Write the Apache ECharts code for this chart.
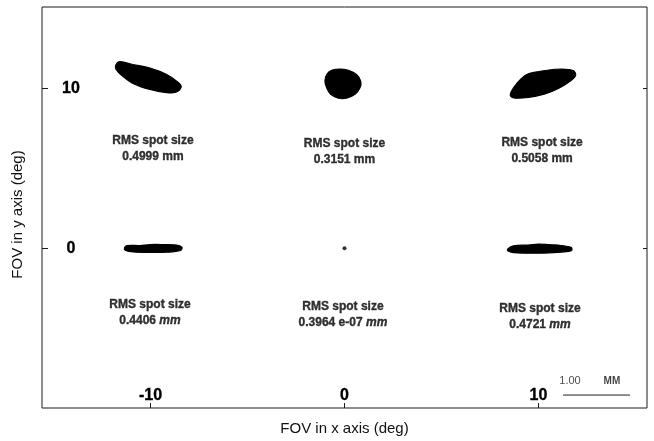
<!DOCTYPE html>
<html>
<head>
<meta charset="utf-8">
<script src="https://cdn.jsdelivr.net/npm/echarts@6/dist/echarts.min.js"></script>
<style>
  html, body { margin: 0; padding: 0; background: #fff; }
  #chart { width: 654px; height: 441px; }
</style>
</head>
<body>
<div id="chart"></div>
<script>
// ---- Data (in degrees) ----
const xTickValues = [-10, 0, 10];
const yTickValues = [0, 10];

// spot outlines (FOV x, FOV y) in degrees
const spotTopLeft = [[-11.80,11.45],[-11.58,11.68],[-10.91,11.50],[-10.03,11.28],[-9.17,10.88],[-8.59,10.40],[-8.42,10.10],[-8.70,9.76],[-9.17,9.74],[-10.03,9.94],[-10.91,10.32],[-11.45,10.78],[-11.78,11.20]];
const spotTopCenter = [[-0.92,10.87],[-0.66,11.14],[-0.23,11.22],[0.20,11.14],[0.63,10.87],[0.84,10.45],[0.80,10.04],[0.54,9.63],[0.11,9.40],[-0.32,9.40],[-0.71,9.63],[-0.92,10.04],[-1.01,10.45]];
const spotTopRight = [[8.55,9.58],[8.74,10.08],[9.10,10.60],[9.48,10.92],[10.34,11.12],[11.20,11.22],[11.80,11.12],[11.92,10.82],[11.63,10.45],[11.03,10.00],[10.34,9.66],[9.48,9.44],[8.79,9.40]];
const spotMidLeft = [[-11.35,0.00],[-11.23,0.16],[-10.55,0.17],[-10.03,0.23],[-9.35,0.23],[-8.65,0.20],[-8.38,0.06],[-8.46,-0.14],[-9.17,-0.25],[-10.03,-0.26],[-10.89,-0.23],[-11.29,-0.14]];
const spotMidRight = [[8.42,-0.04],[8.71,0.15],[9.48,0.20],[9.99,0.26],[10.51,0.23],[11.20,0.17],[11.70,0.04],[11.70,-0.16],[11.20,-0.24],[10.34,-0.30],[9.48,-0.31],[8.71,-0.28],[8.42,-0.16]];
const spotCenterPoint = [[0, 0]];

// RMS labels
const labelX = [-9.88, 0.0, 10.19, -10.03, -0.08, 10.08];
const labelY = [6.26, 6.04, 6.10, -4.06, -4.13, -4.31];
const rmsValues = ['0.4999', '0.3151', '0.5058', '0.4406', '0.3964 e-07', '0.4721'];

// scale bar (1.00 MM)
const scaleBarX = [11.27, 14.72];
const scaleBarY = [-9.19, -9.19];
const scaleTextX = [11.63, 13.79];
const scaleTextY = [-8.30, -8.30];
const scaleTexts = ['1.00', 'MM'];

// ---- Chart ----
const spotOutlines = [spotTopLeft, spotTopCenter, spotTopRight, spotMidLeft, spotMidRight];
const FONT = '"Liberation Sans", Arial, Helvetica, sans-serif';
const INK = '#000';

const chart = echarts.init(document.getElementById('chart'), null, { renderer: 'canvas' });

const boldText = (size) => ({
  fontFamily: FONT, fontSize: size, fontWeight: 'bold', color: INK,
  textBorderColor: INK, textBorderWidth: 0.35
});

const option = {
  backgroundColor: '#ffffff',
  animation: false,
  grid: {
    left: 42, right: 7, top: 7, bottom: 30,
    show: true, borderColor: '#1a1a1a', borderWidth: 1, backgroundColor: 'transparent'
  },
  xAxis: {
    type: 'value', min: -15.6, max: 15.6,
    name: 'FOV in x axis (deg)', nameLocation: 'middle', nameGap: 13,
    nameTextStyle: { fontFamily: FONT, fontSize: 15, color: '#111' },
    axisLine: { show: false, onZero: false },
    splitLine: { show: false },
    axisTick: { show: true, inside: true, length: 5, customValues: xTickValues, lineStyle: { color: '#1a1a1a' } },
    axisLabel: Object.assign({ show: true, inside: true, margin: 4, customValues: xTickValues }, boldText(16))
  },
  yAxis: [{
    type: 'value', min: -10, max: 15.1,
    name: 'FOV in y axis (deg)', nameLocation: 'middle', nameGap: 17,
    nameTextStyle: { fontFamily: FONT, fontSize: 15, color: '#111', padding: [0, 14, 0, 0] },
    axisLine: { show: false, onZero: false },
    splitLine: { show: false },
    axisTick: { show: true, inside: true, length: 6, customValues: yTickValues, lineStyle: { color: '#1a1a1a' } },
    axisLabel: Object.assign({ show: true, inside: true, margin: 29, align: 'center', customValues: yTickValues }, boldText(16))
  }, {
    type: 'value', min: -10, max: 15.1, position: 'right',
    axisLine: { show: false, onZero: false },
    splitLine: { show: false },
    axisTick: { show: true, inside: true, length: 4, customValues: yTickValues, lineStyle: { color: '#1a1a1a' } },
    axisLabel: { show: false }
  }],
  series: [
    {
      name: 'spots', type: 'custom',
      data: spotOutlines.map((o, i) => [o[0][0], o[0][1], i]),
      encode: { x: 0, y: 1 },
      clip: false,
      renderItem: function (params, api) {
        const outline = spotOutlines[api.value(2)];
        const pts = outline.map(p => api.coord(p));
        return {
          type: 'polygon',
          shape: { points: pts, smooth: 0.35 },
          style: { fill: '#000', stroke: '#000', lineWidth: 1.2 }
        };
      }
    },
    {
      name: 'center spot', type: 'scatter',
      data: spotCenterPoint,
      symbol: 'circle', symbolSize: 4,
      itemStyle: { color: '#000' }
    },
    {
      name: 'rms labels', type: 'scatter',
      data: labelX.map((x, i) => ({ value: [x, labelY[i]], rms: rmsValues[i] })),
      symbolSize: 1,
      itemStyle: { color: 'rgba(0,0,0,0)' },
      label: {
        show: true, position: 'inside', align: 'center', verticalAlign: 'middle',
        formatter: function (p) {
          const unit = p.value[1] < 0 ? '{mi|mm}' : '{m|mm}';
          return '{a|RMS spot size}\n{v|' + p.data.rms + ' }' + unit;
        },
        rich: {
          a: Object.assign({ lineHeight: 16, align: 'center' }, boldText(12)),
          v: Object.assign({ lineHeight: 16 }, boldText(12)),
          m: Object.assign({ lineHeight: 16 }, boldText(12)),
          mi: Object.assign({ lineHeight: 16, fontStyle: 'italic' }, boldText(12))
        }
      }
    },
    {
      name: 'scale bar', type: 'line',
      data: scaleBarX.map((x, i) => [x, scaleBarY[i]]),
      symbol: 'none',
      lineStyle: { color: '#222', width: 1 }
    },
    {
      name: 'scale text', type: 'scatter',
      data: scaleTextX.map((x, i) => ({ value: [x, scaleTextY[i]], txt: scaleTexts[i] })),
      symbolSize: 1,
      itemStyle: { color: 'rgba(0,0,0,0)' },
      label: {
        show: true, position: 'inside',
        formatter: function (p) { return p.dataIndex === 0 ? '{n|' + p.data.txt + '}' : '{u|' + p.data.txt + '}'; },
        rich: {
          n: { fontFamily: FONT, fontSize: 11, color: '#222' },
          u: { fontFamily: FONT, fontSize: 10, fontWeight: 'bold', color: '#111' }
        }
      }
    }
  ]
};

chart.setOption(option);
</script>
</body>
</html>
